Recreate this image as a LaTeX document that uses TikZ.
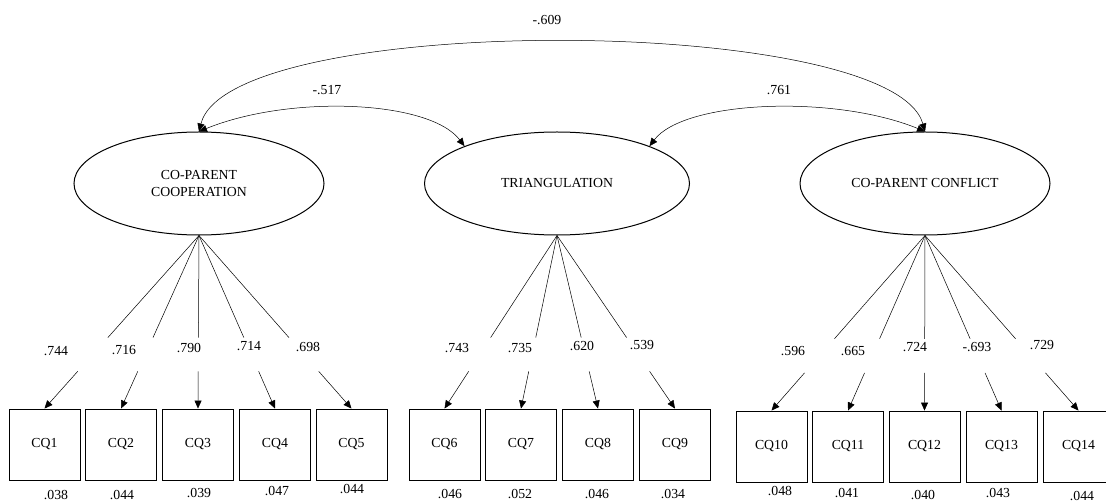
\documentclass[tikz,border=0pt]{standalone}
\usepackage{fontspec}
\setmainfont{Liberation Serif}
\usetikzlibrary{arrows.meta,calc,shapes.geometric}

\tikzset{
  factor/.style={ellipse, draw, line width=1pt, minimum width=250pt, minimum height=103pt, inner sep=0pt, align=center},
  item/.style={rectangle, draw, line width=0.9pt, minimum size=71pt, inner sep=0pt},
  coef/.style={inner sep=0pt}
}

\begin{document}
\begin{tikzpicture}[x=1pt, y=-1pt, >={Triangle[length=8pt,width=7pt]}, line width=0.5pt, font=\fontsize{13.8}{17}\selectfont]

    \useasboundingbox (0,0) rectangle (1106,502);

    % latent factors
    \node[factor]                        (coop)  at (199,183.5) {CO-PARENT\\COOPERATION};
    \node[factor, minimum width=265pt]   (tri)   at (557,183.5) {TRIANGULATION};
    \node[factor]                        (confl) at (925,183.5) {CO-PARENT CONFLICT};

    % indicators
    \node[item] (cq1)  at (44.5,444.5)  {CQ1};
    \node[item] (cq2)  at (121,444.5)   {CQ2};
    \node[item] (cq3)  at (198,444.5)   {CQ3};
    \node[item] (cq4)  at (275,444.5)   {CQ4};
    \node[item] (cq5)  at (351.5,444.5) {CQ5};
    \node[item] (cq6)  at (444.5,444.5) {CQ6};
    \node[item] (cq7)  at (521,444.5)   {CQ7};
    \node[item] (cq8)  at (598,444.5)   {CQ8};
    \node[item] (cq9)  at (675,444.5)   {CQ9};
    \node[item] (cq10) at (771.5,446.5) {CQ10};
    \node[item] (cq11) at (848,446.5)   {CQ11};
    \node[item] (cq12) at (924.5,446.5) {CQ12};
    \node[item] (cq13) at (1001.5,446.5) {CQ13};
    \node[item] (cq14) at (1078.5,446.5) {CQ14};

    % loadings, broken where the values sit
    \foreach \f/\i in {coop/1,coop/2,coop/3,coop/4,coop/5,tri/6,tri/7,tri/8,tri/9,
                       confl/10,confl/11,confl/12,confl/13,confl/14}
      {\draw (\f.south) -- ($(\f.south)!.59!(cq\i.north)$);
       \draw[->] ($(\f.south)!.785!(cq\i.north)$) -- (cq\i.north);}

    % covariances
    \draw[<->] (coop.north) .. controls +(30,-120) and +(-33,-118) .. (confl.north);
    \draw[<->] (coop.north) .. controls +(91,-37) and +(-35,-46) .. (tri.158);
    \draw[<->] (tri.22) .. controls +(35,-46) and +(-90,-37) .. (confl.north);

    \node[coef] (r13) at (547,20) {-.609};
    \node[coef] (r12) at (327,90) {-.517};
    \node[coef] (r23) at (779,90) {.761};

    % loading values
    \node[coef] (l1)  at (56,351.5)  {.744};
    \node[coef] (l2)  at (124,350)   {.716};
    \node[coef] (l3)  at (189,348)   {.790};
    \node[coef] (l4)  at (249,346.5) {.714};
    \node[coef] (l5)  at (308,347.5) {.698};
    \node[coef] (l6)  at (457,348)   {.743};
    \node[coef] (l7)  at (520,348)   {.735};
    \node[coef] (l8)  at (582,346)   {.620};
    \node[coef] (l9)  at (642,345)   {.539};
    \node[coef] (l10) at (793,351)   {.596};
    \node[coef] (l11) at (853,351)   {.665};
    \node[coef] (l12) at (915,347)   {.724};
    \node[coef] (l13) at (977,347)   {-.693};
    \node[coef] (l14) at (1042,345)  {.729};

    % error variances
    \node[coef] (e1)  at (56,495)   {.038};
    \node[coef] (e2)  at (122,495)  {.044};
    \node[coef] (e3)  at (199,493)  {.039};
    \node[coef] (e4)  at (277,491)  {.047};
    \node[coef] (e5)  at (352,489)  {.044};
    \node[coef] (e6)  at (450,494)  {.046};
    \node[coef] (e7)  at (520,494)  {.052};
    \node[coef] (e8)  at (597,494)  {.046};
    \node[coef] (e9)  at (673,494)  {.034};
    \node[coef] (e10) at (780,491)  {.048};
    \node[coef] (e11) at (847,493.5) {.041};
    \node[coef] (e12) at (923,495.5) {.040};
    \node[coef] (e13) at (998,493)  {.043};
    \node[coef] (e14) at (1082,496) {.044};

\end{tikzpicture}
\end{document}
